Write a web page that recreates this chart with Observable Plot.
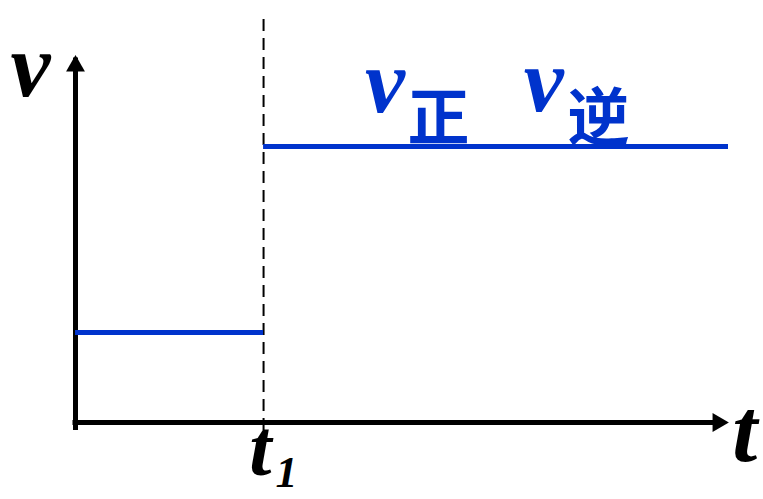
<!DOCTYPE html>
<html><head><meta charset="utf-8">
<script src="https://cdn.jsdelivr.net/npm/d3@7"></script>
<script src="https://cdn.jsdelivr.net/npm/@observablehq/plot@0.6"></script>
<style>html,body{margin:0;padding:0;background:#fff}</style>
</head><body><div id="chart"></div>
<script>
// time of the step
const t1 = 2.88;
// rate segments: start time, end time, rate value
const segStart = [0, 2.88];
const segEnd = [2.88, 10];
const segRate = [2.45, 7.52];

// black italic labels (axis names and t1)
const blackText = ["v", "t", "t", "1"];
const blackT = [-0.69, 10.25, 2.83, 3.23];
const blackV = [8.91, -1.04, -1.44, -1.77];
const blackSize = [90, 90, 80, 44];

// blue labels: italic v and CJK subscripts
const blueVText = ["v", "v"];
const blueVT = [4.74, 7.17];
const blueVV = [8.46, 8.48];
const subText = ["正", "逆"];
const subT = [5.56, 8.01];
const subV = [7.71, 7.71];

const blue = "#0033cc";
const serif = "Liberation Serif";
const segs = segStart.map((s, i) => ({t0: s, t1: segEnd[i], v: segRate[i]}));
const blackLabels = blackText.map((s, i) => ({s, t: blackT[i], v: blackV[i], size: blackSize[i]}));
const blueV = blueVText.map((s, i) => ({s, t: blueVT[i], v: blueVV[i]}));
const subs = subText.map((s, i) => ({s, t: subT[i], v: subV[i]}));

const plot = Plot.plot({
  width: 763, height: 499,
  marginTop: 0, marginRight: 0, marginBottom: 0, marginLeft: 0,
  x: {domain: [0, 10], range: [75, 728], axis: null},
  y: {domain: [0, 10], range: [422, 55], axis: null},
  marks: [
    Plot.ruleX([t1], {y1: -0.22, y2: 11.17, stroke: "black", strokeWidth: 2, strokeDasharray: "12,7"}),
    Plot.ruleX([0], {y1: 0, y2: 10, stroke: "black", strokeWidth: 5, insetTop: 8, insetBottom: -2.5}),
    Plot.ruleY([0], {x1: 0, x2: 10, stroke: "black", strokeWidth: 5, insetRight: 8, insetLeft: -2.5}),
    Plot.dot([{t: 0, v: 10}], {x: "t", y: "v", symbol: "triangle", r: 7, fill: "black", stroke: "none", dy: 10.5}),
    Plot.dot([{t: 10, v: 0}], {x: "t", y: "v", symbol: "triangle", r: 7, rotate: 90, fill: "black", stroke: "none", dx: -10.5}),
    Plot.ruleY(segs, {x1: "t0", x2: "t1", y: "v", stroke: blue, strokeWidth: 5}),
    Plot.text(blackLabels, {x: "t", y: "v", text: "s", fontSize: "size", fontFamily: serif, fontWeight: "bold", fontStyle: "italic", fill: "black", lineAnchor: "bottom", textAnchor: "middle"}),
    Plot.text(blueV, {x: "t", y: "v", text: "s", fontSize: 90, fontFamily: serif, fontWeight: "bold", fontStyle: "italic", fill: blue, lineAnchor: "bottom", textAnchor: "middle"}),
    Plot.text(subs, {x: "t", y: "v", text: "s", fontSize: 62, fontFamily: "Noto Sans CJK SC", fontWeight: "bold", fill: blue, lineAnchor: "bottom", textAnchor: "middle"})
  ]
});
document.getElementById("chart").appendChild(plot);
</script>
</body></html>
